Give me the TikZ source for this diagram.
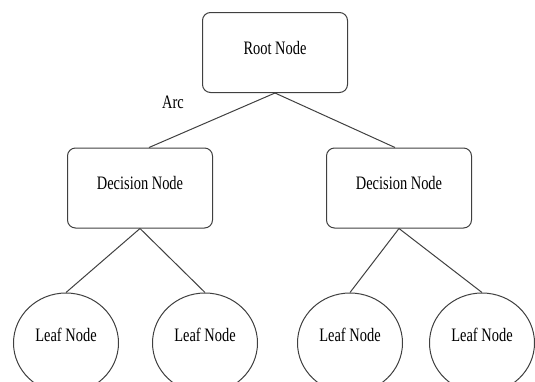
\documentclass[tikz,border=0pt]{standalone}
\usepackage{fontspec}
\setmainfont{Liberation Serif}
\usepackage{graphicx}
\usetikzlibrary{shapes.geometric}
\definecolor{edgegray}{rgb}{0.25, 0.25, 0.25}
\newcommand{\sqz}[1]{\scalebox{0.76}[1]{#1}}

\begin{document}
\begin{tikzpicture}[x=1pt, y=-1pt,
    every node/.style={font=\fontsize{19}{22}\selectfont, text height=12.6pt},
    box/.style={draw=edgegray, line width=1pt, rounded corners=8pt,
      minimum width=145pt, minimum height=80pt, text depth=9pt},
    leaf/.style={ellipse, draw=edgegray, line width=1pt,
      minimum width=105pt, minimum height=100pt, text depth=16pt}]
  \useasboundingbox (0,0) rectangle (535,381);
  \clip (0,0) rectangle (535,381);

  % root and decision nodes
  \node[box] (root) at (275,52.5) {\sqz{Root Node}};
  \node[box] (decl) at (140,188) {\sqz{Decision Node}};
  \node[box] (decr) at (399,188) {\sqz{Decision Node}};
  \node (arc) at (173,102) {\sqz{Arc}};

  % leaves
  \foreach \n/\x in {la/66, lb/205, lc/350, ld/482}{
    \node[leaf] (\n) at (\x,343) {\sqz{Leaf Node}};
  }

  % arcs
  \draw[edgegray, line width=1pt] (root.south) -- ([xshift=9pt]decl.north);
  \draw[edgegray, line width=1pt] (root.south) -- ([xshift=-4pt]decr.north);
  \foreach \p/\c in {decl/la, decl/lb, decr/lc, decr/ld}{
    \draw[edgegray, line width=1pt] (\p.south) -- (\c.north);
  }
\end{tikzpicture}
\end{document}
